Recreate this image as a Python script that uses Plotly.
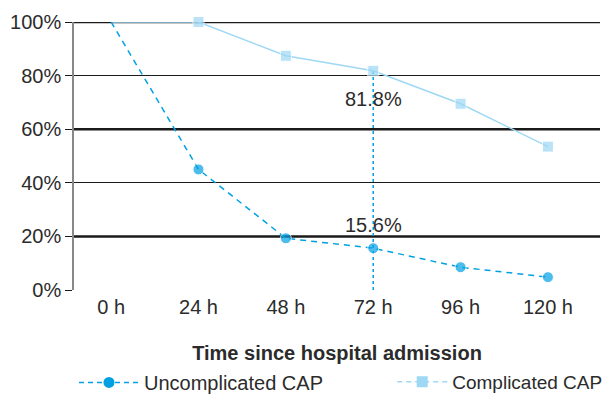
import plotly.graph_objects as go

hours = [0, 24, 48, 72, 96, 120]
tick_labels = ["0 h", "24 h", "48 h", "72 h", "96 h", "120 h"]
uncomplicated = [100, 45.0, 19.3, 15.6, 8.5, 4.8]
complicated = [100, 100, 87.4, 81.8, 69.5, 53.5]
y_ticks = [0, 20, 40, 60, 80, 100]
y_tick_labels = ["0%", "20%", "40%", "60%", "80%", "100%"]
highlight_hour = 72
highlight_unc = 15.6
highlight_comp = 81.8

C_UNC = "#00A0E3"
C_COMP = "#9ED8F4"
FONT = "Liberation Sans"
TXT = "#2b2b2b"
FS = 20

# no marker at the 0 h starting point (as in the reference)
msize_circle = [0, 11, 11, 11, 11, 11]
msize_square = [0, 11, 11, 11, 11, 11]

fig = go.Figure()

# vertical dotted reference line at 72 h
fig.add_trace(go.Scatter(
    x=[highlight_hour, highlight_hour], y=[0, highlight_comp],
    mode="lines", line=dict(color=C_UNC, width=1.5, dash="dot"),
    showlegend=False, hoverinfo="skip"))

fig.add_trace(go.Scatter(
    x=hours, y=complicated, mode="lines+markers",
    line=dict(color=C_COMP, width=1.5),
    marker=dict(symbol="square", size=msize_square, color=C_COMP),
    showlegend=False, cliponaxis=False))

fig.add_trace(go.Scatter(
    x=hours, y=uncomplicated, mode="lines+markers",
    line=dict(color=C_UNC, width=1.5, dash="6px,5px"),
    marker=dict(symbol="circle", size=msize_circle, color=C_UNC),
    showlegend=False, cliponaxis=False))

# legend-only entries (two separate legends side by side)
fig.add_trace(go.Scatter(
    x=[None], y=[None], mode="lines+markers", name="Uncomplicated CAP",
    line=dict(color=C_UNC, width=1.5, dash="5px,4px"),
    marker=dict(symbol="circle", size=11, color=C_UNC), legend="legend"))
fig.add_trace(go.Scatter(
    x=[None], y=[None], mode="lines+markers", name="Complicated CAP",
    line=dict(color=C_COMP, width=1.5, dash="5px,4px"),
    marker=dict(symbol="square", size=11, color=C_COMP), legend="legend2"))

fig.add_annotation(x=highlight_hour, y=highlight_comp, text=f"{highlight_comp}%",
                   showarrow=False, yanchor="top", yshift=-15,
                   font=dict(family=FONT, size=FS, color=TXT))
fig.add_annotation(x=highlight_hour, y=highlight_unc, text=f"{highlight_unc}%",
                   showarrow=False, yanchor="bottom", yshift=10,
                   font=dict(family=FONT, size=FS, color=TXT))

# thicker gridlines like the reference
for v in [100, 60, 20]:
    fig.add_shape(type="line", xref="paper", yref="y", x0=0, x1=1, y0=v, y1=v,
                  line=dict(color="#1a1a1a", width=2.5), layer="below")

legend_common = dict(orientation="h", xanchor="left", y=-0.272, yanchor="top",
                     bgcolor="rgba(0,0,0,0)")

# figure is 8 px smaller: the page body has an 8 px default margin
fig.update_layout(
    width=602, height=389,
    margin=dict(l=66, r=10, t=14, b=107, autoexpand=False),
    plot_bgcolor="white", paper_bgcolor="white",
    font=dict(family=FONT, size=FS, color=TXT),
    legend=dict(x=0.0, itemwidth=60,
                font=dict(family=FONT, size=FS, color=TXT), **legend_common),
    legend2=dict(x=0.605, itemwidth=50,
                 font=dict(family=FONT, size=19, color=TXT), **legend_common),
    xaxis=dict(
        range=[-10.2, 134.3], tickmode="array", tickvals=hours, ticktext=tick_labels,
        showgrid=False, zeroline=False, showline=False, ticks="",
        ticklabelstandoff=3,
        tickfont=dict(family=FONT, size=FS, color=TXT),
        title=dict(text="<b>Time since hospital admission</b>",
                   font=dict(family=FONT, size=FS, color=TXT), standoff=28)),
    yaxis=dict(
        range=[0, 100], tickmode="array", tickvals=y_ticks, ticktext=y_tick_labels,
        showgrid=True, gridcolor="#1a1a1a", gridwidth=1,
        zeroline=False, showline=True, linecolor="#888888", linewidth=1.5,
        ticks="outside", ticklen=7, tickcolor="#1a1a1a", tickwidth=1,
        tickfont=dict(family=FONT, size=FS, color=TXT)),
)

fig.write_html("out.html")
